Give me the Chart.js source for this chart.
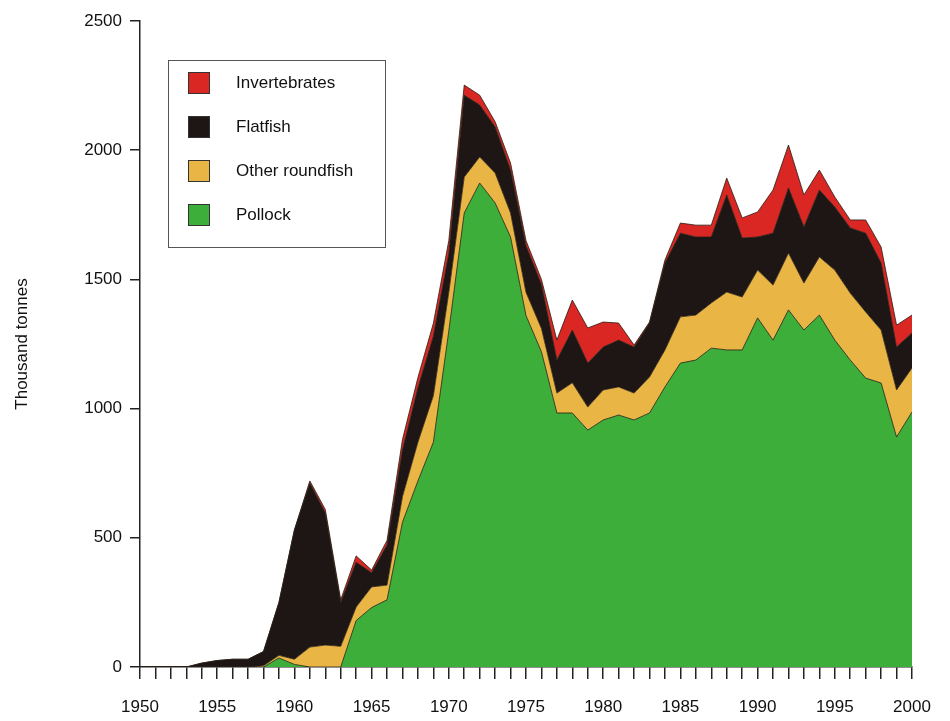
<!DOCTYPE html>
<html>
<head>
<meta charset="utf-8">
<script src="https://cdn.jsdelivr.net/npm/chart.js@4/dist/chart.umd.min.js"></script>
<style>
  html, body { margin: 0; padding: 0; background: #fff; }
  #wrap { width: 950px; height: 721px; position: relative; }
</style>
</head>
<body>
<div id="wrap"><canvas id="c" width="950" height="721"></canvas></div>
<script>
  // years 1950–2000, thousand tonnes per group (stacked)
  const years = [];
  for (let y = 1950; y <= 2000; y++) years.push(y);

  const pollock = [0,0,0,0,0,0,0,0,0,35,10,0,0,0,180,230,260,560,720,870,
    1300,1757,1873,1796,1664,1360,1220,983,983,917,956,975,956,983,1084,
    1176,1188,1234,1227,1227,1351,1265,1382,1304,1362,1265,1188,1118,1099,890,987];
  const roundfish = [0,0,0,0,0,0,0,0,5,10,20,77,85,80,52,80,57,100,150,180,
    150,139,101,116,93,90,90,77,117,89,116,109,104,139,143,
    179,174,175,224,205,185,213,220,182,225,271,259,256,205,182,170];
  const flatfish = [0,0,0,0,15,25,30,30,55,205,500,635,511,170,173,55,155,180,210,230,
    150,317,201,178,166,180,170,128,204,170,166,181,178,209,336,
    324,302,255,376,228,128,201,252,217,259,244,252,305,259,166,136];
  const invertebrates = [0,0,0,0,0,0,0,0,0,0,0,8,14,10,25,10,18,40,40,50,
    50,39,38,20,27,20,20,77,116,136,97,66,8,4,12,
    39,46,46,65,78,97,167,166,124,77,39,31,51,62,85,69];

  const yTicks = [0, 500, 1000, 1500, 2000, 2500];
  const SERIES = [
    { label: 'Pollock', data: pollock, color: '#3eae3a' },
    { label: 'Other roundfish', data: roundfish, color: '#e9b545' },
    { label: 'Flatfish', data: flatfish, color: '#1d1614' },
    { label: 'Invertebrates', data: invertebrates, color: '#db2724' }
  ];

  /* ── legend box drawn inside the plot ── */
  const boxLegend = {
    id: 'boxLegend',
    afterDraw: function (chart) {
      const ctx = chart.ctx;
      ctx.save();
      ctx.strokeStyle = '#555';
      ctx.lineWidth = 1;
      ctx.strokeRect(168.5, 60.5, 217, 187);
      ctx.font = '17px "Liberation Sans", Arial, sans-serif';
      ctx.textBaseline = 'middle';
      SERIES.slice().reverse().forEach(function (s, i) {
        const y = 83 + i * 44;
        ctx.fillStyle = s.color;
        ctx.fillRect(188, y - 11, 22, 22);
        ctx.strokeStyle = '#333';
        ctx.strokeRect(188.5, y - 10.5, 21, 21);
        ctx.fillStyle = '#111';
        ctx.fillText(s.label, 236, y);
      });
      ctx.restore();
    }
  };

  const font = { family: '"Liberation Sans", Arial, sans-serif', size: 17 };

  new Chart(document.getElementById('c'), {
    type: 'line',
    data: {
      labels: years,
      datasets: SERIES.map(function (s, i) {
        return {
          label: s.label, data: s.data,
          backgroundColor: s.color, borderColor: 'rgba(40,30,20,0.8)', borderWidth: 1,
          fill: i === 0 ? 'origin' : '-1', pointRadius: 0, tension: 0
        };
      })
    },
    options: {
      responsive: false, animation: false,
      layout: { padding: { left: 0, right: 38, top: 21, bottom: 0 } },
      plugins: { legend: { display: false }, tooltip: { enabled: false } },
      scales: {
        x: {
          offset: false,
          afterFit: function (ax) { ax.height = 54; },
          grid: { display: true, drawOnChartArea: false, tickLength: 12, color: '#222', lineWidth: 1.5 },
          border: { display: true, color: '#222', width: 1.5 },
          ticks: {
            autoSkip: false, maxRotation: 0, color: '#111', font: font, padding: 18,
            callback: function (v, i) { return years[i] % 5 === 0 ? String(years[i]) : ''; }
          }
        },
        y: {
          stacked: true, min: 0, max: 2500,
          afterBuildTicks: function (ax) { ax.ticks = yTicks.map(function (v) { return { value: v }; }); },
          afterFit: function (ax) { ax.width = 140; },
          grid: { display: true, drawOnChartArea: false, tickLength: 10, color: '#222', lineWidth: 1.5 },
          border: { display: true, color: '#222', width: 1.5 },
          ticks: { color: '#111', font: font, padding: 8, callback: function (v) { return String(v); } },
          title: { display: true, text: 'Thousand tonnes', color: '#111', font: { family: font.family, size: 17 }, padding: { top: 12, bottom: 18 } }
        }
      }
    },
    plugins: [boxLegend]
  });
</script>
</body>
</html>
